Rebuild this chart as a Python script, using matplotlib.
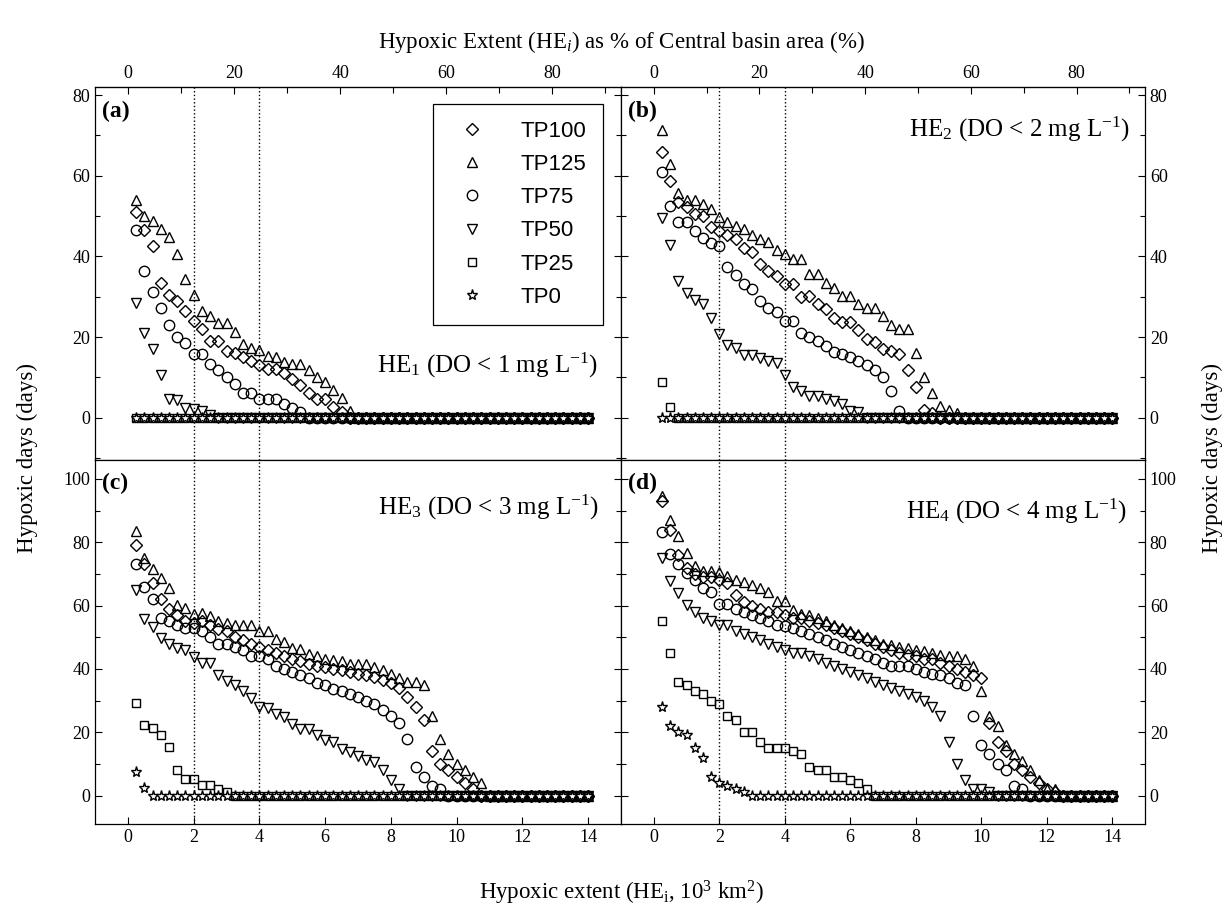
import numpy as np
import matplotlib
matplotlib.use("Agg")
import matplotlib.pyplot as plt
from matplotlib.ticker import MultipleLocator, FixedLocator

plt.rcParams['font.family'] = 'Liberation Serif'
plt.rcParams['mathtext.fontset'] = 'custom'
plt.rcParams['mathtext.rm'] = 'Liberation Serif'
plt.rcParams['mathtext.it'] = 'Liberation Serif:italic'
plt.rcParams['mathtext.bf'] = 'Liberation Serif:bold'

# hypoxic extent grid (10^3 km2) and central basin area for the top axis
he = np.arange(0.25, 14.01, 0.25)
basin_area = 16.138
n = len(he)


def pad(vals):
    # trailing points all sit on zero
    return vals + [0] * (n - len(vals))


# panel (a) HE1
tp100_a = [51, 46.5, 42.5, 33.5, 30.5, 29, 26.5, 24, 22, 19, 19, 16.5, 16, 15, 14, 13, 12, 12, 11, 9.5,
           8, 6, 4.6, 4.6, 2.7, 1.3]
tp125_a = [54, 50, 48.7, 46.8, 44.7, 40.7, 34.5, 30.5, 26.5, 25.3, 23.4, 23.4, 21.3, 18.2, 17.2, 16.8, 15.3,
           15.1, 13.8, 13.2, 13.2, 11.9, 10, 8.8, 6.9, 4.9, 1.7]
tp75_a = [46.6, 36.4, 31.2, 27.1, 23.1, 20, 18.5, 15.9, 15.9, 13.2, 11.9, 10.1, 8.4, 6, 6, 4.6, 4.6, 4.6,
          3.5, 2.5, 1.5]
tp50_a = [28.5, 21, 17, 10.7, 4.6, 4.4, 2.5, 2.1, 1.7, 0.7]
tp25_a = []
tp0_a = []

# panel (b) HE2
tp100_b = [65.9, 58.7, 53.4, 52.2, 50.5, 50.1, 47.4, 46.4, 45.3, 44.4, 42.1, 41.1, 38.1, 36.4, 35.2, 33.1,
           33.1, 29.9, 30.1, 28.2, 26.9, 24.8, 23.8, 23.8, 21.7, 19.6, 18.8, 17, 16.5, 15.9, 11.7, 7.5,
           1.8, 1.2]
tp125_b = [71.3, 62.9, 55.8, 54.1, 54.1, 52.9, 51.7, 49.8, 48.6, 47.5, 46.7, 45.4, 44.4, 43.6, 41.5, 40.6,
           39.4, 39.4, 35.6, 35.6, 33.5, 32.2, 30.1, 30.1, 28.2, 27.2, 27.2, 25.1, 23, 21.9, 21.9, 16.1,
           10, 6, 2.9, 1.8, 1.2]
tp75_b = [60.8, 52.6, 48.4, 48.4, 46.4, 44.6, 43.3, 42.5, 37.3, 35.3, 33.2, 32, 29, 27.2, 26.1, 24, 24,
          21, 20, 18.9, 17.7, 16.4, 15.9, 15.1, 14.1, 13, 11.9, 10, 6.7, 1.6]
tp50_b = [49.4, 42.9, 33.9, 30.9, 29.2, 28.2, 24.8, 20.8, 18, 17.3, 15.5, 15.5, 14.9, 14.1, 13.6, 10.7,
          7.5, 6.7, 5.4, 5.4, 4.6, 4.1, 3.5, 1.6, 1.4]
tp25_b = [8.8, 2.6]
tp0_b = []

# panel (c) HE3
tp100_c = [79, 73, 67, 62, 59, 57, 55, 54.5, 55, 54, 52.5, 52, 50, 49, 48, 47, 46, 45, 44, 43, 42.5, 41.5,
           41, 40.5, 40, 39.5, 39, 38.5, 38, 37.5, 36.5, 35.5, 34, 31, 28, 24, 14, 10, 8, 6, 4, 2]
tp125_c = [83.6, 75, 71.5, 68.6, 65.6, 60.3, 59.2, 57.4, 57.6, 56.6, 55.1, 54.4, 53.9, 53.9, 53.9, 51.9,
           51.9, 49.4, 48.6, 46.7, 46.2, 44.6, 44.1, 43.2, 42.7, 42.5, 41.6, 41.4, 41.4, 40.5, 39.5, 38.5,
           37, 36, 36, 35, 25, 18, 13, 10, 8, 6, 4]
tp75_c = [73, 66, 62, 56, 55, 54, 53, 53, 52, 50, 48, 48, 47, 46, 44, 44, 43, 41, 40, 39, 38, 37, 35.5, 35,
          33.5, 33, 32, 31, 30, 29, 27, 25, 23, 18, 9, 6, 3, 2]
tp50_c = [64.9, 55.8, 53.1, 49.9, 47.8, 46.7, 45.9, 43.9, 41.9, 41.9, 38, 36.1, 35, 33.1, 30.9, 28.1, 27.7,
          25.9, 24.9, 22.7, 21.1, 20.9, 19.2, 17.4, 16.9, 14.7, 13.9, 12.6, 11.2, 10.5, 8, 5, 2]
tp25_c = [29.1, 22.2, 21.3, 19.2, 15.3, 8.1, 5.3, 5.3, 3.2, 3.2, 2.1, 1.1]
tp0_c = [7.3, 2.5]

# panel (d) HE4
tp100_d = [93, 84, 76, 72, 70, 69, 69, 68, 67, 63.5, 61, 60, 59, 58, 58, 57, 56, 56, 55, 54.5, 54, 53, 52,
           51, 50, 49, 48, 47, 46, 45, 44.5, 44, 43, 43, 42, 41, 40, 39, 38, 37, 23, 17, 14, 10, 8, 6, 4,
           2, 1]
tp125_d = [94.5, 87, 82, 76.7, 72.6, 70.8, 70.8, 70.5, 69.2, 68.2, 67.6, 66.6, 65.5, 64.4, 61.4, 61.4, 58.5,
           57.5, 57, 56, 55, 54, 53, 52, 51, 50, 49, 48, 47.5, 47, 46.5, 46, 45.5, 45, 44.5, 44, 44, 43,
           41, 33, 25, 22, 16, 13, 11, 8, 5, 2, 2]
tp75_d = [83.3, 76.2, 73, 70.3, 68, 65.5, 64.4, 60.4, 60.4, 59, 58, 57, 56, 55, 54, 53.5, 53, 52, 51, 50,
          49, 48, 47, 46, 45, 44, 43, 42, 41, 41, 41, 40, 39, 38.5, 38, 37, 35.5, 35, 25, 16, 13, 10, 8,
          3, 2]
tp50_d = [75, 67.8, 63.9, 60.2, 58, 56, 55, 54, 54, 52, 51, 50, 49, 48, 47, 46, 45, 45, 44, 43, 42, 41,
          40, 39, 38, 37, 36, 35, 34, 33, 32, 31, 30, 28, 25, 17, 10, 5, 2, 2, 1]
tp25_d = [55, 45, 36, 35, 33, 32, 30, 29, 25, 24, 20, 20, 17, 15, 15, 15, 14, 13, 9, 8, 8, 6, 6, 5, 4, 2]
tp0_d = [28, 22, 20, 19, 15, 12, 6, 4, 3, 2, 1]

labels = ['TP100', 'TP125', 'TP75', 'TP50', 'TP25', 'TP0']
markers = ['D', '^', 'o', 'v', 's', '*']
msizes = [6.5, 7.5, 7.5, 7.5, 6, 8]

panels = [
    ('(a)', r'HE$_1$ (DO < 1 mg L$^{-1}$)', [tp100_a, tp125_a, tp75_a, tp50_a, tp25_a, tp0_a]),
    ('(b)', r'HE$_2$ (DO < 2 mg L$^{-1}$)', [tp100_b, tp125_b, tp75_b, tp50_b, tp25_b, tp0_b]),
    ('(c)', r'HE$_3$ (DO < 3 mg L$^{-1}$)', [tp100_c, tp125_c, tp75_c, tp50_c, tp25_c, tp0_c]),
    ('(d)', r'HE$_4$ (DO < 4 mg L$^{-1}$)', [tp100_d, tp125_d, tp75_d, tp50_d, tp25_d, tp0_d]),
]

# figure and axes (pixel layout of the original)
W, H = 1231, 915
fig = plt.figure(figsize=(W / 100, H / 100), dpi=100)
x_left, x_mid, x_right = 95, 621, 1145
y_top, y_split, y_bot = 87, 460, 824
boxes = [
    (x_left, y_top, x_mid, y_split),
    (x_mid, y_top, x_right, y_split),
    (x_left, y_split, x_mid, y_bot),
    (x_mid, y_split, x_right, y_bot),
]
axs = []
for (x0, y0, x1, y1) in boxes:
    axs.append(fig.add_axes([x0 / W, 1 - y1 / H, (x1 - x0) / W, (y1 - y0) / H]))

text_pos = [(0.956, 0.254), (0.971, 0.886), (0.958, 0.871), (0.965, 0.86)]

for i, ax in enumerate(axs):
    tag, he_label, series = panels[i]
    for lab, mk, ms, vals in zip(labels, markers, msizes, series):
        face = 'white' if mk == '*' else 'none'
        ax.plot(he, pad(vals), ls='none', marker=mk, ms=ms, mfc=face, mec='black', mew=1.0,
                label=lab, zorder=3 if mk == '*' else 2)

    ax.axvline(2, ls=':', color='black', lw=1, zorder=1)
    ax.axvline(4, ls=':', color='black', lw=1, zorder=1)

    ax.set_xlim(-1, 15)
    if i < 2:
        ax.set_ylim(-10.5, 82)
    else:
        ax.set_ylim(-9, 106)
    ax.yaxis.set_major_locator(FixedLocator([0, 20, 40, 60, 80] if i < 2 else [0, 20, 40, 60, 80, 100]))
    ax.yaxis.set_minor_locator(MultipleLocator(10))
    ax.xaxis.set_major_locator(FixedLocator([0, 2, 4, 6, 8, 10, 12, 14]))

    ax.tick_params(axis='both', which='both', direction='in', labelsize=13, width=0.8)
    ax.tick_params(axis='y', which='major', length=5)
    ax.tick_params(axis='y', which='minor', length=3.5)
    ax.tick_params(axis='x', which='major', length=5)
    right_side = (i % 2 == 1)
    ax.tick_params(axis='y', which='both', left=True, right=True,
                   labelleft=not right_side, labelright=right_side)
    if i < 2:
        ax.tick_params(axis='x', which='both', bottom=False, labelbottom=False)
        top = ax.secondary_xaxis('top', functions=(lambda x: x / basin_area * 100,
                                                    lambda p: p * basin_area / 100))
        top.xaxis.set_major_locator(FixedLocator([0, 20, 40, 60, 80]))
        top.xaxis.set_minor_locator(FixedLocator([10, 30, 50, 70, 90]))
        top.tick_params(axis='x', which='both', direction='in', labelsize=13, width=0.8)
        top.tick_params(axis='x', which='major', length=5)
        top.tick_params(axis='x', which='minor', length=4)
    for sp in ax.spines.values():
        sp.set_linewidth(0.9)

    ax.text(0.014, 0.935, tag, transform=ax.transAxes, fontsize=17, fontweight='bold',
            ha='left', va='center')
    tx, ty = text_pos[i]
    ax.text(tx, ty, he_label, transform=ax.transAxes, fontsize=18, ha='right', va='center')

# legend in panel (a)
leg = axs[0].legend(loc='upper right', bbox_to_anchor=(0.966, 0.954), borderaxespad=0,
                    fancybox=False, edgecolor='black', framealpha=1,
                    prop={'family': 'Liberation Sans', 'size': 16},
                    borderpad=0.75, labelspacing=0.55, handlelength=2.0, handletextpad=1.2,
                    numpoints=1)
leg.get_frame().set_linewidth(0.9)

# axis titles
fig.text(0.5045, 1 - 42 / H, r'Hypoxic Extent (HE$_i$) as % of Central basin area (%)',
         fontsize=16.5, ha='center', va='center')
fig.text(0.5045, 1 - 893 / H, r'Hypoxic extent (HE$_{\rm i}$, 10$^3$ km$^2$)',
         fontsize=16.5, ha='center', va='center')
fig.text(27 / W, 1 - 458 / H, 'Hypoxic days (days)', rotation=90, fontsize=16.5,
         ha='center', va='center')
fig.text(1212 / W, 1 - 458 / H, 'Hypoxic days (days)', rotation=90, fontsize=16.5,
         ha='center', va='center')

fig.savefig('out.png', dpi=100)
